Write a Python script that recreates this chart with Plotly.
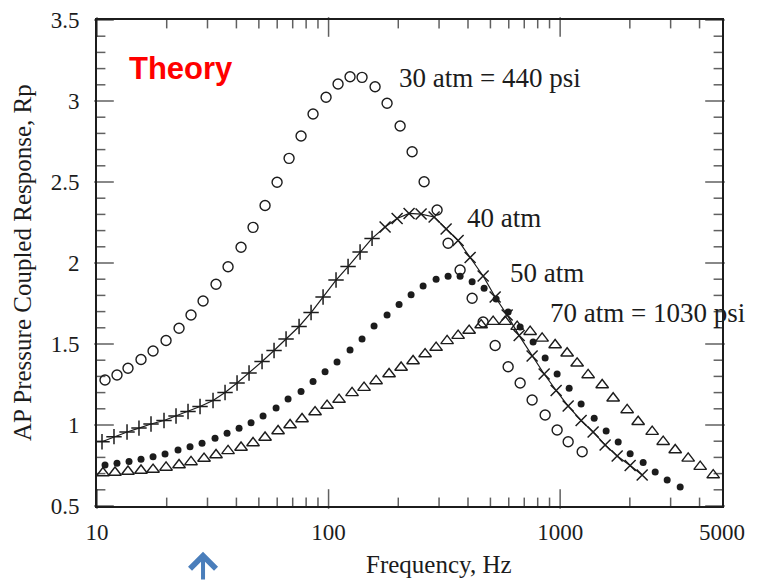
import numpy as np
import plotly.graph_objects as go

# Frequency (Hz) and AP pressure-coupled response Rp at each chamber pressure
freq_30 = [10.83, 12.20, 13.61, 15.49, 17.46, 19.87, 22.61, 25.47, 28.71, 32.66,
           36.81, 41.88, 47.19, 53.18, 59.93, 67.52, 76.07, 85.70, 97.54, 109.9,
           123.8, 139.5, 158.8, 178.9, 203.7, 229.5, 258.6, 294.2, 328.2, 369.8,
           416.8, 465.0, 524.0, 596.3, 671.9, 756.8, 861.4, 970.5, 1083, 1245]
rp_30 = [1.278, 1.309, 1.350, 1.404, 1.457, 1.522, 1.597, 1.679, 1.765, 1.869,
         1.977, 2.097, 2.220, 2.355, 2.498, 2.646, 2.784, 2.920, 3.023, 3.105,
         3.150, 3.146, 3.088, 2.986, 2.846, 2.687, 2.502, 2.327, 2.122, 1.957,
         1.782, 1.636, 1.491, 1.360, 1.259, 1.154, 1.062, 0.969, 0.897, 0.835]

freq_40 = [10.51, 11.84, 13.48, 15.18, 17.11, 19.47, 21.94, 24.72, 27.86, 31.70,
           35.72, 40.25, 45.35, 51.61, 58.15, 65.53, 74.58, 84.03, 94.68, 107.7,
           121.4, 136.8, 154.1, 175.4, 197.7, 222.7, 250.9, 285.6, 321.8, 362.6,
           408.6, 465.0, 524.0, 590.3, 665.3, 756.8, 852.9, 961.0, 1083, 1232,
           1388, 1564, 1763, 2006, 2261]
rp_40 = [0.897, 0.928, 0.957, 0.981, 1.006, 1.028, 1.056, 1.083, 1.114, 1.151,
         1.201, 1.259, 1.321, 1.392, 1.460, 1.531, 1.608, 1.694, 1.790, 1.895,
         1.978, 2.068, 2.152, 2.222, 2.275, 2.306, 2.302, 2.284, 2.210, 2.139,
         2.034, 1.920, 1.790, 1.679, 1.552, 1.426, 1.315, 1.213, 1.117, 1.028,
         0.957, 0.877, 0.809, 0.750, 0.691]

freq_50 = [10.83, 12.20, 13.75, 15.49, 17.46, 19.67, 22.38, 25.22, 28.42, 32.34,
           36.45, 41.07, 46.27, 52.13, 59.34, 66.85, 76.07, 85.70, 96.58, 108.8,
           123.8, 139.5, 157.2, 178.9, 201.6, 227.2, 256.0, 291.3, 328.2, 369.8,
           416.8, 469.6, 529.2, 596.3, 671.9, 764.4, 861.4, 970.5, 1094, 1232,
           1403, 1580, 1781, 2006, 2283, 2573, 2899, 3299]
rp_50 = [0.753, 0.764, 0.775, 0.788, 0.804, 0.821, 0.846, 0.866, 0.887, 0.918,
         0.949, 0.980, 1.014, 1.056, 1.105, 1.160, 1.207, 1.269, 1.329, 1.389,
         1.463, 1.531, 1.611, 1.679, 1.744, 1.804, 1.858, 1.900, 1.918, 1.918,
         1.885, 1.844, 1.778, 1.698, 1.605, 1.512, 1.414, 1.315, 1.227, 1.130,
         1.041, 0.963, 0.895, 0.823, 0.769, 0.710, 0.660, 0.617]

freq_70 = [10.61, 11.96, 13.61, 15.49, 17.46, 19.87, 22.61, 25.47, 28.99, 32.66,
           36.81, 41.88, 47.19, 53.18, 60.53, 68.21, 76.82, 87.44, 98.51, 111.0,
           126.3, 142.3, 160.4, 182.5, 205.7, 231.7, 261.1, 291.3, 325.0, 362.6,
           404.6, 455.9, 513.6, 578.7, 652.2, 742.0, 835.9, 951.5, 1072, 1184,
           1321, 1519, 1694, 1947, 2172, 2497, 2786, 3140, 3572, 4025, 4581]
rp_70 = [0.704, 0.707, 0.713, 0.719, 0.725, 0.738, 0.753, 0.772, 0.793, 0.815,
         0.840, 0.861, 0.889, 0.923, 0.963, 1.000, 1.037, 1.080, 1.120, 1.157,
         1.198, 1.231, 1.272, 1.315, 1.355, 1.395, 1.438, 1.478, 1.519, 1.552,
         1.583, 1.617, 1.638, 1.638, 1.607, 1.576, 1.535, 1.494, 1.443, 1.381,
         1.309, 1.247, 1.165, 1.093, 1.020, 0.959, 0.897, 0.846, 0.794, 0.743,
         0.691]

# Curve labels: text, anchor frequency (Hz), anchor Rp
curve_labels = ["30 atm = 440 psi", "40 atm", "50 atm", "70 atm = 1030 psi"]
label_freq = [197.7, 388.7, 596.3, 887.6]
label_rp = [3.142, 2.278, 1.938, 1.691]

x_tickvals = [10, 100, 1000, 5000]
x_ticktext = ["10", "100", "1000", "5000"]
y_tickvals = [0.5, 1, 1.5, 2, 2.5, 3, 3.5]
y_ticktext = ["0.5", "1", "1.5", "2", "2.5", "3", "3.5"]

arrow_freq = 28.7

ink = "#1c1c1c"
serif = "Liberation Serif, Times New Roman, serif"

# Figure geometry
W, H = 762, 581
M_L, M_R, M_T, M_B = 97, 40, 20, 75
X_MIN, X_MAX = 10, 5000
Y_MIN, Y_MAX = 0.5, 3.5

fig = go.Figure()

fig.add_trace(go.Scatter(
    x=freq_30, y=rp_30, mode="markers", name="30 atm",
    marker=dict(symbol="circle-open", size=10, color=ink,
                line=dict(width=1.4, color=ink)),
))

# 40 atm: crosses joined by a line; upright crosses on the rising side
sym_40 = ["cross-thin" if f < 170 else "x-thin" for f in freq_40]
fig.add_trace(go.Scatter(
    x=freq_40, y=rp_40, mode="lines+markers", name="40 atm",
    line=dict(color=ink, width=1.2),
    marker=dict(symbol=sym_40, size=11, color=ink,
                line=dict(width=1.5, color=ink)),
))

fig.add_trace(go.Scatter(
    x=freq_50, y=rp_50, mode="markers", name="50 atm",
    marker=dict(symbol="circle", size=7, color=ink),
))

fig.add_trace(go.Scatter(
    x=freq_70, y=rp_70, mode="markers", name="70 atm",
    marker=dict(symbol="triangle-up-open", size=11, color=ink,
                line=dict(width=1.4, color=ink)),
))

# Inward tick marks on all four sides, drawn as line-shaped markers
# centred half a tick length inside each axis line
plot_w = W - M_L - M_R
plot_h = H - M_T - M_B
dec_per_px = (np.log10(X_MAX) - np.log10(X_MIN)) / plot_w
val_per_px = (Y_MAX - Y_MIN) / plot_h

x_major = [10, 100, 1000]
x_minor = [m * 10 ** e for e in (1, 2, 3) for m in range(2, 10) if m * 10 ** e < X_MAX]
y_major = list(y_tickvals)
y_minor = [round(Y_MIN + 0.1 * k, 1) for k in range(31)]
y_minor = [v for v in y_minor if v not in y_major]

MAJOR_LEN, MINOR_LEN = 14, 7
tick_x, tick_y, tick_sym, tick_size = [], [], [], []
for vals, L in ((x_major, MAJOR_LEN), (x_minor, MINOR_LEN)):
    off = 0.5 * L * val_per_px
    for v in vals:
        tick_x += [v, v]
        tick_y += [Y_MIN + off, Y_MAX - off]
        tick_sym += ["line-ns-open", "line-ns-open"]
        tick_size += [L, L]
for vals, L in ((y_major, MAJOR_LEN), (y_minor, MINOR_LEN)):
    k = 10 ** (0.5 * L * dec_per_px)
    for v in vals:
        tick_x += [X_MIN * k, X_MAX / k]
        tick_y += [v, v]
        tick_sym += ["line-ew-open", "line-ew-open"]
        tick_size += [L, L]

fig.add_trace(go.Scatter(
    x=tick_x, y=tick_y, mode="markers", name="ticks", hoverinfo="skip",
    cliponaxis=False,
    marker=dict(symbol=tick_sym, size=tick_size, color=ink,
                line=dict(width=1.5, color=ink)),
))

annotations = []
for txt, f, r in zip(curve_labels, label_freq, label_rp):
    annotations.append(dict(
        x=np.log10(f), y=r, xref="x", yref="y", text=txt, showarrow=False,
        xanchor="left", yanchor="middle",
        font=dict(family=serif, size=27, color=ink),
    ))

annotations.append(dict(
    x=0.048, y=0.901, xref="paper", yref="paper", text="<b>Theory</b>",
    showarrow=False, xanchor="left", yanchor="middle",
    font=dict(family="Liberation Sans, Arial, sans-serif", size=31, color="#ff0000"),
))

annotations.append(dict(
    x=0.547, y=-0.121, xref="paper", yref="paper", text="Frequency, Hz",
    showarrow=False, xanchor="center", yanchor="middle",
    font=dict(family=serif, size=25, color=ink),
))

annotations.append(dict(
    x=-0.12, y=0.5, xref="paper", yref="paper",
    text="AP Pressure Coupled Response, Rp", textangle=-90,
    showarrow=False, xanchor="center", yanchor="middle",
    font=dict(family=serif, size=25, color=ink),
))

# Blue pointer below the frequency axis
annotations.append(dict(
    x=np.log10(arrow_freq), y=-0.094, xref="x", yref="paper", text="",
    showarrow=True, ax=0, ay=34, arrowhead=4, arrowsize=1.25, arrowwidth=4,
    arrowcolor="#4a7ebb", standoff=0,
))

fig.update_xaxes(
    type="log", range=[np.log10(X_MIN), np.log10(X_MAX)],
    tickmode="array", tickvals=x_tickvals, ticktext=x_ticktext,
    ticks="outside", ticklen=5, tickcolor="rgba(0,0,0,0)",
    showline=True, linecolor=ink, linewidth=1.6, mirror=True,
    showgrid=False, zeroline=False,
    tickfont=dict(family=serif, size=23, color=ink),
)
fig.update_yaxes(
    range=[Y_MIN, Y_MAX],
    tickmode="array", tickvals=y_tickvals, ticktext=y_ticktext,
    ticks="outside", ticklen=11, tickcolor="rgba(0,0,0,0)",
    showline=True, linecolor=ink, linewidth=1.6, mirror=True,
    showgrid=False, zeroline=False,
    tickfont=dict(family=serif, size=23, color=ink),
)

fig.update_layout(
    width=W, height=H,
    margin=dict(l=M_L, r=M_R, t=M_T, b=M_B, autoexpand=False),
    paper_bgcolor="white", plot_bgcolor="white",
    showlegend=False,
    annotations=annotations,
)

fig.write_html("out.html")
